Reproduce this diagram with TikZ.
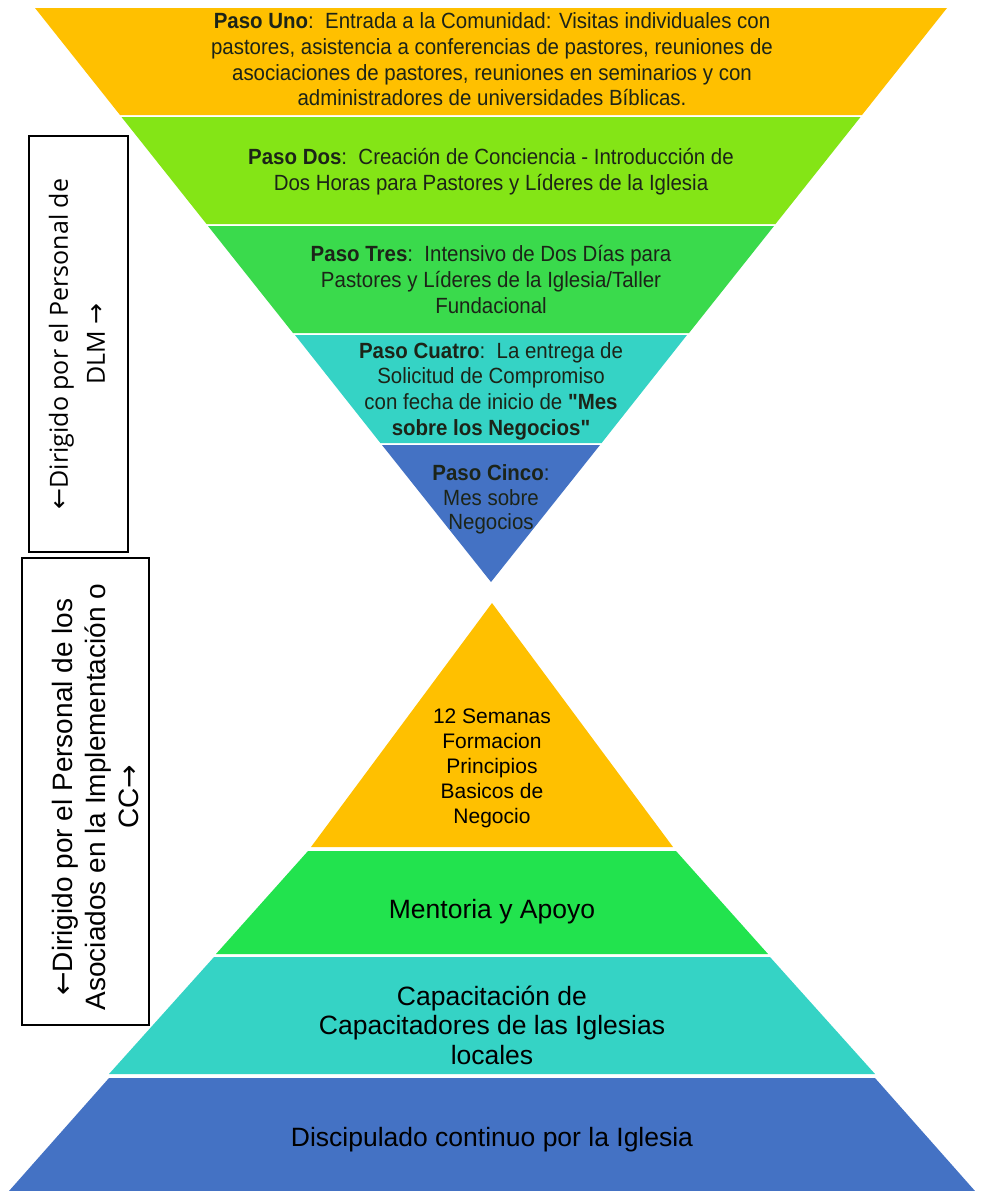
\documentclass[tikz,border=0pt]{standalone}
\usepackage{fontspec}
\setmainfont{Liberation Sans}
\newfontfamily\condf[FakeStretch=0.93]{Liberation Sans}
\newfontfamily\boxf{Open Sans}
\newfontfamily\arrowf{DejaVu Sans}
\definecolor{cyellow}{HTML}{FFC000}
\definecolor{clime}{HTML}{84E516}
\definecolor{cgreenA}{HTML}{3ADA4C}
\definecolor{cteal}{HTML}{35D3C5}
\definecolor{cblue}{HTML}{4472C4}
\definecolor{cgreenB}{HTML}{22E34E}
\definecolor{ctxt}{HTML}{1C2418}
\begin{document}
\begin{tikzpicture}[x=1pt,y=-1pt,
  toptext/.style={align=center,text=ctxt,inner sep=0pt,font=\condf\fontsize{22}{25.7}\selectfont},
  bottext/.style={align=center,text=black,inner sep=0pt},
  sidebox/.style={draw=black,line width=1.2pt,fill=white},
  sidetext/.style={align=center,rotate=90,inner sep=0pt}]
\useasboundingbox (0,0) rectangle (983,1191);
\fill[white] (0,0) rectangle (983,1191);

% inverted funnel
\fill[cyellow] (35,8) -- (947,8) -- (862,115) -- (120,115) -- cycle;
\fill[clime] (121.5,117) -- (860.5,117) -- (775.5,224) -- (206.5,224) -- cycle;
\fill[cgreenA] (208,226) -- (774,226) -- (689,333) -- (293,333) -- cycle;
\fill[cteal] (295,335) -- (687,335) -- (601.6,443) -- (380.4,443) -- cycle;
\fill[cblue] (382,445) -- (600,445) -- (491,582) -- cycle;

\node[toptext] (t1) at (492,59.5) {\textbf{Paso Uno}:\ \ Entrada a la Comunidad: Visitas individuales con\\pastores, asistencia a conferencias de pastores, reuniones de\\asociaciones de pastores, reuniones en seminarios y con\\administradores de universidades Bíblicas.};
\node[toptext] (t2) at (491,171.5) {\textbf{Paso Dos}:\ \ Creación de Conciencia - Introducción de\\Dos Horas para Pastores y Líderes de la Iglesia};
\node[toptext] (t3) at (491,279.5) {\textbf{Paso Tres}:\ \ Intensivo de Dos Días para\\Pastores y Líderes de la Iglesia/Taller\\Fundacional};
\node[toptext] (t4) at (491,391) {\textbf{Paso Cuatro}:\ \ La entrega de\\Solicitud de Compromiso\\con fecha de inicio de \textbf{"Mes}\\\textbf{sobre los Negocios"}};
\node[toptext,font=\condf\fontsize{22}{24.5}\selectfont] (t5) at (491,499.5) {\textbf{Paso Cinco}:\\Mes sobre\\Negocios};

% pyramid
\fill[cyellow] (492,603) -- (673,847) -- (311,847) -- cycle;
\fill[cgreenB] (308,851) -- (676,851) -- (768,954) -- (216,954) -- cycle;
\fill[cteal] (214,957) -- (770,957) -- (875,1074) -- (109,1074) -- cycle;
\fill[cblue] (109,1078) -- (875,1078) -- (975,1191) -- (9,1191) -- cycle;

\node[bottext,font=\fontsize{21}{25}\selectfont] (b1) at (492,768) {12 Semanas\\Formacion\\Principios\\Basicos de\\Negocio};
\node[bottext,font=\fontsize{26.5}{29.5}\selectfont] (b2) at (492,912) {Mentoria y Apoyo};
\node[bottext,font=\fontsize{26.5}{29.5}\selectfont] (b3) at (492,1025) {Capacitación de\\Capacitadores de las Iglesias\\locales};
\node[bottext,font=\fontsize{26.5}{29.5}\selectfont] (b4) at (492,1140) {Discipulado continuo por la Iglesia};

% side boxes
\draw[sidebox] (29,136) rectangle (128,552);
\draw[sidebox] (22,558) rectangle (149,1025);
\node[sidetext,font=\boxf\fontsize{25}{37}\selectfont] (s1) at (77,344) {{\arrowf ←}Dirigido por el Personal de\\DLM {\arrowf →}};
\node[sidetext,font=\fontsize{28}{33}\selectfont] (s2) at (95,797) {{\arrowf ←}Dirigido por el Personal de los\\Asociados en la Implementación o\\CC{\arrowf →}};
\end{tikzpicture}
\end{document}
